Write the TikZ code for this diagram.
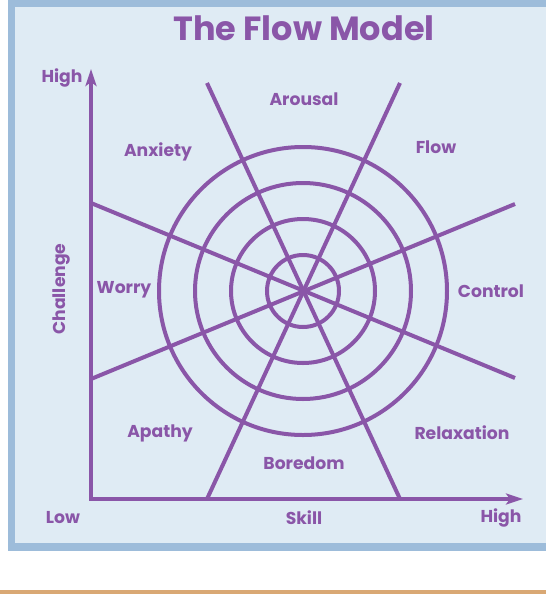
\documentclass[tikz,border=0pt]{standalone}
\usepackage{fontspec}
\setmainfont{Poppins}
\usepackage{tikz}
\usetikzlibrary{arrows.meta}
\definecolor{flowpurple}{HTML}{8A56A8}
\definecolor{panelfill}{HTML}{DFEBF4}
\definecolor{panelborder}{HTML}{9DBCDA}
\definecolor{flowtan}{HTML}{D9A874}

\begin{document}
\begin{tikzpicture}[x=1pt, y=-1pt,
    ring/.style={draw=flowpurple, line width=4pt},
    spoke/.style={draw=flowpurple, line width=4pt},
    axisline/.style={draw=flowpurple, line width=4pt, line join=miter},
    zone/.style={text=flowpurple, font=\fontsize{17.2}{17.2}\selectfont\bfseries, inner sep=0pt}]
    \useasboundingbox (0,0) rectangle (546,611);
    % panel
    \fill[white] (0,0) rectangle (546,611);
    \fill[panelborder] (8,0) rectangle (546,551);
    \fill[panelfill] (15,7) rectangle (546,543);
    \fill[flowtan] (0,590) rectangle (546,594);

    \node[zone, font=\fontsize{33.5}{33.5}\selectfont\bfseries] (title) at (304, 28) {The Flow Model};

    % axes
    \coordinate (origin) at (91, 499);
    \coordinate (ytip) at (91, 69);
    \coordinate (xtip) at (523, 499);
    \draw[axisline, {Stealth[length=17pt, width=11pt, inset=4pt]}-{Stealth[length=17pt, width=11pt, inset=4pt]}]
        (ytip) -- (origin) -- (xtip);

    % spokes
    \coordinate (c) at (303, 291);
    \coordinate (s1a) at (207, 83);  \coordinate (s1b) at (400, 499);
    \coordinate (s2a) at (400, 83);  \coordinate (s2b) at (207, 499);
    \coordinate (s3a) at (91, 203);  \coordinate (s3b) at (515, 378);
    \coordinate (s4a) at (91, 379);  \coordinate (s4b) at (515, 204);
    \draw[spoke] (s1a) -- (s1b);
    \draw[spoke] (s2a) -- (s2b);
    \draw[spoke] (s3a) -- (s3b);
    \draw[spoke] (s4a) -- (s4b);

    % rings
    \draw[ring] (c) circle (36pt);
    \draw[ring] (c) circle (72pt);
    \draw[ring] (c) circle (108pt);
    \draw[ring] (c) circle (144pt);

    % zones
    \node[zone] (arousal) at (304, 99) {Arousal};
    \node[zone] (anxiety) at (158, 152) {Anxiety};
    \node[zone] (flow) at (436, 147) {Flow};
    \node[zone] (worry) at (124, 290) {Worry};
    \node[zone] (control) at (491, 291) {Control};
    \node[zone] (apathy) at (160, 433) {Apathy};
    \node[zone] (relax) at (462, 433) {Relaxation};
    \node[zone] (boredom) at (304, 463) {Boredom};

    % axis labels
    \node[zone] (yhigh) at (62, 78) {High};
    \node[zone, rotate=90] (challenge) at (62, 289) {Challenge};
    \node[zone] (xlow) at (63, 518) {Low};
    \node[zone] (skill) at (304, 518) {Skill};
    \node[zone] (xhigh) at (501, 518) {High};
\end{tikzpicture}
\end{document}
